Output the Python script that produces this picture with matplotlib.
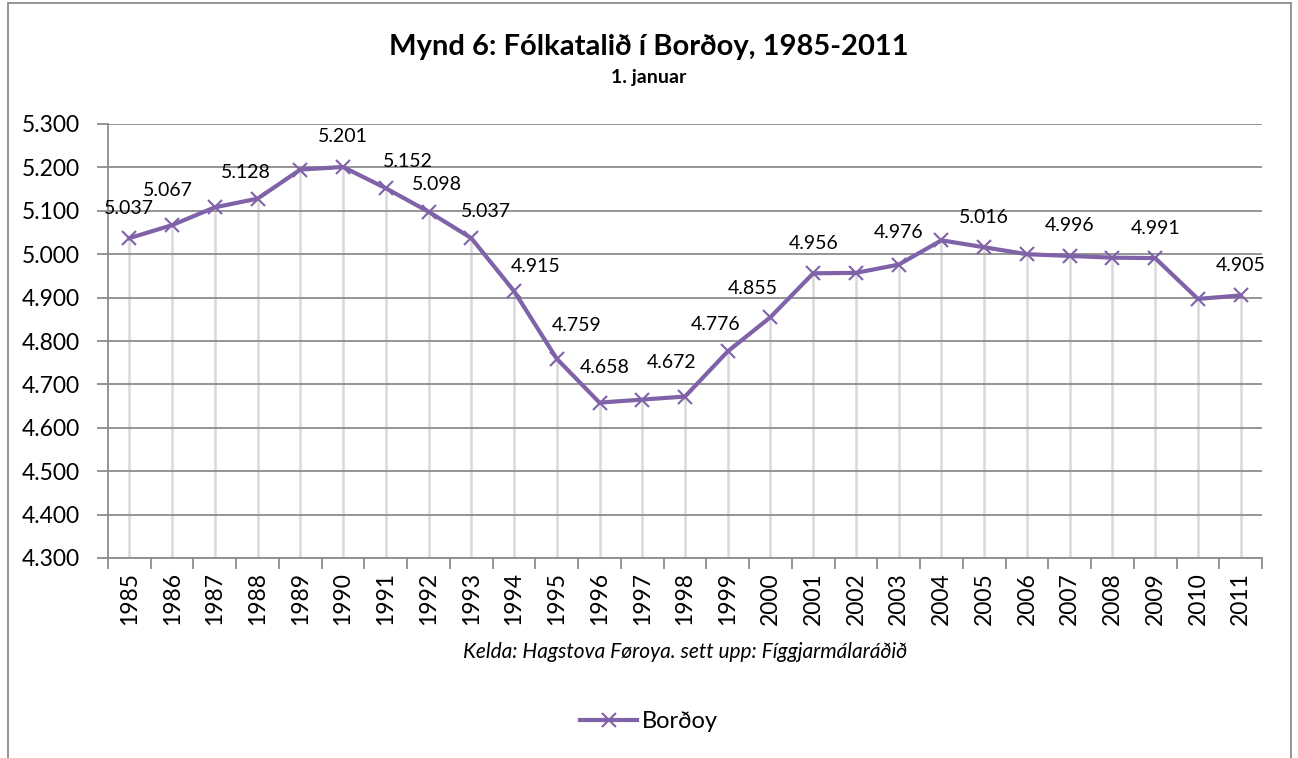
import matplotlib.pyplot as plt
from matplotlib.patches import Rectangle
from matplotlib.ticker import FixedLocator, FuncFormatter

plt.rcParams['font.family'] = ['Lato', 'DejaVu Sans']

# population 1. januar
years = list(range(1985, 2012))
population = [5037, 5067, 5108, 5128, 5195, 5201, 5152, 5098, 5037, 4915,
              4759, 4658, 4665, 4672, 4776, 4855, 4956, 4957, 4976, 5032,
              5016, 5000, 4996, 4992, 4991, 4897, 4905]
# which years get a data label
labelled_years = [1985, 1986, 1988, 1990, 1991, 1992, 1993, 1994, 1995, 1996,
                  1998, 1999, 2000, 2001, 2003, 2005, 2007, 2009, 2011]
# label nudges in pixels (dx, dy) as placed in the original
label_nudge = {1986: (-4, 35), 1988: (-12, 26), 1991: (22, 27), 1992: (8, 27),
               1993: (15, 27), 1994: (22, 25), 1995: (20, 33), 1996: (5, 35),
               1998: (-13, 34), 1999: (-12, 27), 2000: (-18, 29), 2003: (0, 32)}

purple = '#7F62A8'
grid_col = '#8C8C8C'

fig = plt.figure(figsize=(12.98, 7.58), dpi=100)
ax = fig.add_axes([108 / 1298, 1 - 558 / 758, 1154 / 1298, 434 / 758])

x = list(range(len(years)))

# drop lines
ax.vlines(x, 4300, population, color='#D9D9D9', lw=1.8, zorder=1)
# horizontal grid
for v in range(4300, 5301, 100):
    ax.axhline(v, color=grid_col, lw=1.3, zorder=2)

ax.plot(x, population, color=purple, lw=3, marker='x', markersize=10,
        markeredgewidth=1.5, zorder=4, label='Borðoy')

for i, (yr, val) in enumerate(zip(years, population)):
    if yr not in labelled_years:
        continue
    dx, dy = label_nudge.get(yr, (0, 30))
    txt = f'{val:,}'.replace(',', '.')
    ax.annotate(txt, (i, val), xytext=(dx, dy), textcoords='offset pixels',
                ha='center', va='center', fontsize=14, color='black', zorder=5)

ax.set_xlim(-0.5, len(years) - 0.5)
ax.set_ylim(4300, 5300)
ax.set_yticks(range(4300, 5301, 100))
ax.yaxis.set_major_formatter(FuncFormatter(lambda v, p: f'{v:,.0f}'.replace(',', '.')))
ax.set_xticks(x)
ax.set_xticklabels([str(y) for y in years], rotation=90)
ax.xaxis.set_minor_locator(FixedLocator([i - 0.5 for i in range(len(years) + 1)]))
ax.tick_params(axis='x', which='major', length=0, pad=10, labelsize=16.5)
ax.tick_params(axis='x', which='minor', length=8, width=1.3, color=grid_col)
ax.tick_params(axis='y', length=8, width=1.3, color=grid_col, labelsize=16.5, pad=12)

for s in ['top', 'right']:
    ax.spines[s].set_visible(False)
for s in ['left', 'bottom']:
    ax.spines[s].set_color(grid_col)
    ax.spines[s].set_linewidth(1.3)
ax.set_facecolor('none')

# titles
fig.text(0.5, 1 - 47 / 758, 'Mynd 6: Fólkatalið í Borðoy, 1985-2011',
         ha='center', va='center', fontsize=21, fontweight='bold')
fig.text(0.5, 1 - 77 / 758, '1. januar', ha='center', va='center',
         fontsize=14, fontweight='bold')
fig.text(685 / 1298, 1 - 652 / 758,
         'Kelda: Hagstova Føroya. sett upp: Fíggjarmálaráðið',
         ha='center', va='center', fontsize=15, style='italic')

fig.legend(loc='center', bbox_to_anchor=(0.5, 1 - 722 / 758), frameon=False,
           fontsize=17, handlelength=2.4, handletextpad=0.2)

# chart border
fig.patches.append(Rectangle((8 / 1298, -0.02), 1283 / 1298, 1.0 - 3 / 758 + 0.02,
                             transform=fig.transFigure, fill=False,
                             edgecolor='#8C8C8C', lw=1.3))

fig.savefig('out.png', dpi=100)
